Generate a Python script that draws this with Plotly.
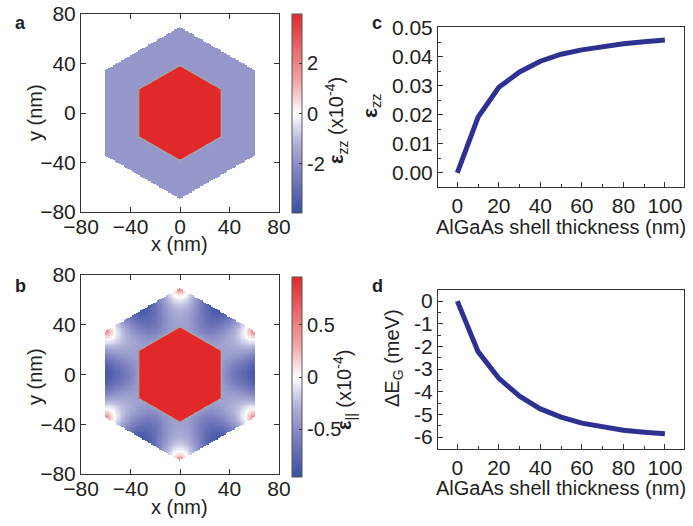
import numpy as np
import plotly.graph_objects as go

# ---------------- data ----------------
thickness_nm = [0, 10, 20, 30, 40, 50, 60, 70, 80, 90, 100]
eps_zz_vs_shell = [0.0, 0.0192, 0.0295, 0.0348, 0.0385, 0.0409, 0.0424, 0.0436, 0.0445, 0.0452, 0.0458]
dEg_meV = [0.0, -2.23, -3.41, -4.20, -4.76, -5.12, -5.39, -5.57, -5.70, -5.79, -5.86]

map_ticks = [-80, -40, 0, 40, 80]
cbar_a_ticks = [-2, 0, 2]
cbar_b_ticks = [-0.5, 0, 0.5]
c_yticks = [0.0, 0.01, 0.02, 0.03, 0.04, 0.05]
c_yticklabels = ["0.00", "0.01", "0.02", "0.03", "0.04", "0.05"]
d_yticks = [0, -1, -2, -3, -4, -5, -6]
shell_xticks = [0, 20, 40, 60, 80, 100]

# cross-section geometry / strain levels (x10^-4)
core_radius_nm = 38.5
shell_radius_nm = 69.5
ezz_core, ezz_shell, ezz_lim = 3.96, -1.8, 3.96
ell_core, ell_lim = 0.96, 0.96
ell_shell_base, ell_edge_amp, ell_tip_amp, ell_tip_len = -0.42, -0.5, 0.95, 9.5

grid = np.arange(-80, 80.5, 1.0)
X, Y = np.meshgrid(grid, grid)
c30 = np.cos(np.pi / 6)
hexr = np.maximum.reduce([np.abs(X), np.abs(0.5 * X + c30 * Y), np.abs(-0.5 * X + c30 * Y)]) / c30
in_core = hexr <= core_radius_nm
in_shell = (hexr <= shell_radius_nm) & ~in_core

Za = np.full(X.shape, np.nan)
Za[in_shell] = ezz_shell
Za[in_core] = ezz_core

s = np.clip((hexr - core_radius_nm) / (shell_radius_nm - core_radius_nm), 0, 1)
theta = np.arctan2(Y, X)
vang = np.deg2rad(np.arange(30, 390, 60))
dv = np.min([np.hypot(X - shell_radius_nm * np.cos(a), Y - shell_radius_nm * np.sin(a)) for a in vang], axis=0)
field = (ell_shell_base + ell_edge_amp * s ** 0.8 * (1 + np.cos(6 * theta)) / 2
         + ell_tip_amp * np.exp(-dv / ell_tip_len))
Zb = np.full(X.shape, np.nan)
Zb[in_shell] = field[in_shell]
Zb[in_core] = ell_core

core_ang = np.deg2rad(np.arange(90, 451, 60))
core_x = list(core_radius_nm * np.cos(core_ang))
core_y = list(core_radius_nm * np.sin(core_ang))

# ---------------- styling ----------------
W, H = 693, 526
FONT = "Liberation Sans, Arial, sans-serif"
TXT = "#231f20"
LINE = "#2e3192"
cscale = [[0, "#3a4fa3"], [0.2, "#7d80bf"], [0.35, "#aeb0d8"], [0.5, "#ffffff"],
          [0.65, "#f1aaaa"], [1, "#e1282a"]]


def px(x):
    return x / W


def py(y):
    return 1 - y / H


fig = go.Figure()

cb_common = dict(xanchor="left", thickness=10, outlinecolor="#555", outlinewidth=1, ticks="inside",
                 ticklen=3, tickcolor="#333", tickfont=dict(size=20, color=TXT, family=FONT),
                 ypad=0, xpad=0, lenmode="fraction")

# panel a heatmap
fig.add_trace(go.Heatmap(x=grid, y=grid, z=Za, zmin=-ezz_lim, zmax=ezz_lim, colorscale=cscale,
                         hoverinfo="skip", xaxis="x", yaxis="y",
                         colorbar=dict(cb_common, x=px(292), len=199 / H, y=py(113.5), yanchor="middle",
                                       tickvals=cbar_a_ticks, ticktext=["-2", "0", "2"])))
fig.add_trace(go.Scatter(x=core_x, y=core_y, mode="lines", line=dict(color="#a8a8a8", width=1.2),
                         hoverinfo="skip", showlegend=False, xaxis="x", yaxis="y"))
# panel b heatmap
fig.add_trace(go.Heatmap(x=grid, y=grid, z=Zb, zmin=-ell_lim, zmax=ell_lim, colorscale=cscale,
                         hoverinfo="skip", xaxis="x2", yaxis="y2",
                         colorbar=dict(cb_common, x=px(292), len=200 / H, y=py(377), yanchor="middle",
                                       tickvals=cbar_b_ticks, ticktext=["-0.5", "0", "0.5"])))
fig.add_trace(go.Scatter(x=core_x, y=core_y, mode="lines", line=dict(color="#a8a8a8", width=1.2),
                         hoverinfo="skip", showlegend=False, xaxis="x2", yaxis="y2"))
# panel c
fig.add_trace(go.Scatter(x=thickness_nm, y=eps_zz_vs_shell, mode="lines", line=dict(color=LINE, width=5),
                         showlegend=False, xaxis="x3", yaxis="y3"))
# panel d
fig.add_trace(go.Scatter(x=thickness_nm, y=dEg_meV, mode="lines", line=dict(color=LINE, width=5),
                         showlegend=False, xaxis="x4", yaxis="y4"))

tickfont = dict(size=21, color=TXT, family=FONT)
map_ax = dict(range=[-80, 80], tickvals=map_ticks, ticks="inside", ticklen=5, tickcolor="#333",
              showline=True, linecolor="#333", linewidth=1, mirror="ticks", showgrid=False,
              zeroline=False, tickfont=tickfont, automargin=False)
map_x = dict(map_ax, ticklabelstandoff=-4)
line_x = dict(range=[-9.3, 109.2], tickvals=shell_xticks, ticks="inside", ticklen=5, tickcolor="#333",
              showline=True, linecolor="#333", linewidth=1, mirror=True, showgrid=False,
              zeroline=False, tickfont=tickfont, automargin=False,
              minor=dict(dtick=10, tick0=0, ticks="inside", ticklen=3, tickcolor="#333", showgrid=False))

fig.update_layout(
    template="none",
    width=W, height=H, margin=dict(l=0, r=0, t=0, b=0, pad=0, autoexpand=False),
    paper_bgcolor="white", plot_bgcolor="white", showlegend=False,
    font=dict(family=FONT, color=TXT),
    xaxis=dict(map_x, domain=[px(81), px(279)], anchor="y"),
    yaxis=dict(map_ax, domain=[py(212), py(14)], anchor="x"),
    xaxis2=dict(map_x, domain=[px(81), px(279)], anchor="y2"),
    yaxis2=dict(map_ax, domain=[py(474), py(275)], anchor="x2"),
    xaxis3=dict(line_x, domain=[px(438), px(684)], anchor="y3"),
    yaxis3=dict(range=[-0.0049, 0.0503], tickvals=c_yticks, ticktext=c_yticklabels, ticks="inside",
                ticklen=5, tickcolor="#333", showline=True, linecolor="#333", linewidth=1, mirror=True,
                showgrid=False, zeroline=False, tickfont=tickfont, domain=[py(187), py(27)], anchor="x3",
                automargin=False,
                minor=dict(dtick=0.005, tick0=0, ticks="inside", ticklen=3, tickcolor="#333", showgrid=False)),
    xaxis4=dict(line_x, domain=[px(438), px(684)], anchor="y4"),
    yaxis4=dict(range=[-6.53, 0.49], tickvals=d_yticks, ticktext=[str(v) for v in d_yticks], ticks="inside",
                ticklen=5, tickcolor="#333", showline=True, linecolor="#333", linewidth=1, mirror=True,
                showgrid=False, zeroline=False, tickfont=tickfont, domain=[py(449), py(290)], anchor="x4",
                automargin=False,
                minor=dict(dtick=0.5, tick0=0, ticks="inside", ticklen=3, tickcolor="#333", showgrid=False)),
)


def ann(text, x, y, size=20, angle=0, bold=False, xanchor="center", yanchor="middle"):
    fig.add_annotation(text=f"<b>{text}</b>" if bold else text, x=px(x), y=py(y), xref="paper", yref="paper",
                       showarrow=False, textangle=angle, xanchor=xanchor, yanchor=yanchor,
                       font=dict(size=size, color=TXT, family=FONT))


# panel letters
ann("a", 20, 23, size=18, bold=True)
ann("b", 20, 286, size=18, bold=True)
ann("c", 377, 23, size=18, bold=True)
ann("d", 377, 286, size=18, bold=True)
# axis titles
ann("x (nm)", 180, 244)
ann("y (nm)", 35, 113, angle=-90)
ann("x (nm)", 180, 507)
ann("y (nm)", 35, 377, angle=-90)
ann("AlGaAs shell thickness (nm)", 561, 227)
ann("AlGaAs shell thickness (nm)", 561, 488)
ann("<b>ε</b><sub>zz</sub>", 371, 106, angle=-90, size=21)
ann("ΔE<sub>G</sub> (meV)", 393, 358, angle=-90)
# colorbar titles
ann("<b>ε</b><sub>zz</sub> (x10<sup>-4</sup>)", 336, 121, angle=-90)
ann("<b>ε</b><sub>||</sub> (x10<sup>-4</sup>)", 344, 390, angle=-90)

fig.write_html("out.html", config={"displayModeBar": False},
               post_script="document.body.style.margin='0px';document.body.style.overflow='hidden';")
